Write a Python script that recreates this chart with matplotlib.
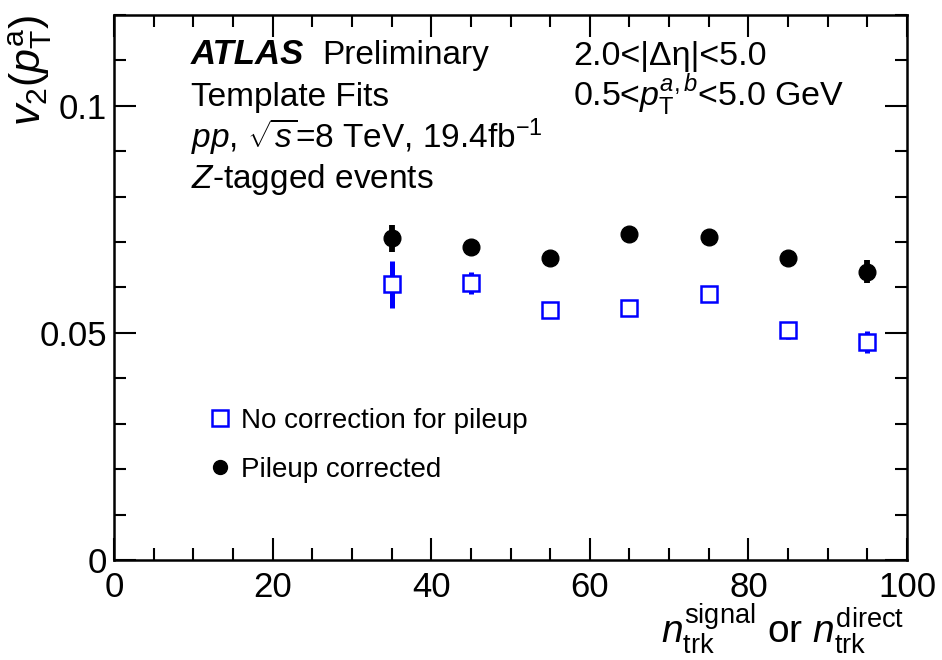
import numpy as np
import matplotlib
matplotlib.use('Agg')
from matplotlib import pyplot as plt
from matplotlib.lines import Line2D
from matplotlib.ticker import MultipleLocator

plt.rcParams['font.family'] = ['Liberation Sans', 'DejaVu Sans']
plt.rcParams['mathtext.fontset'] = 'custom'
plt.rcParams['mathtext.rm'] = 'Liberation Sans'
plt.rcParams['mathtext.it'] = 'Liberation Sans:italic'
plt.rcParams['mathtext.bf'] = 'Liberation Sans:bold'

# multiplicity bins
n_trk = [35, 45, 55, 65, 75, 85, 95]

# v2 without pileup correction (open squares)
v2_raw = [0.0607, 0.0610, 0.0550, 0.0555, 0.0586, 0.0506, 0.0480]
err_raw = [0.0052, 0.0025, 0.0012, 0.0013, 0.0012, 0.0019, 0.0025]

# v2 after pileup correction (filled circles)
v2_corr = [0.0708, 0.0690, 0.0664, 0.0717, 0.0711, 0.0664, 0.0635]
err_corr = [0.0029, 0.0012, 0.0012, 0.0012, 0.0012, 0.0012, 0.0025]

labels = ['No correction for pileup', 'Pileup corrected']

fig = plt.figure(figsize=(9.42, 6.6), dpi=100)
ax = fig.add_axes([114/942, 1 - 560/660, 793/942, 545/660])

ax.errorbar(n_trk, v2_raw, yerr=err_raw, fmt='s', color='#0000ff',
            mfc='white', mec='#0000ff', mew=1.8, ms=12, elinewidth=3.6,
            capsize=0, zorder=3)
ax.errorbar(n_trk, v2_corr, yerr=err_corr, fmt='o', color='black',
            ms=12, elinewidth=4.2, capsize=0, zorder=3)

ax.set_xlim(0, 100)
ax.set_ylim(0, 0.12)
ax.xaxis.set_major_locator(MultipleLocator(20))
ax.xaxis.set_minor_locator(MultipleLocator(5))
ax.yaxis.set_major_locator(MultipleLocator(0.05))
ax.yaxis.set_minor_locator(MultipleLocator(0.01))
ax.set_yticks([0, 0.05, 0.1])
ax.set_yticklabels(['0', '0.05', '0.1'])

ax.tick_params(which='both', direction='in', top=True, right=True,
               width=1.5, labelsize=25)
ax.tick_params(which='major', length=16)
ax.tick_params(which='minor', length=8.5)
ax.tick_params(axis='x', pad=8)
ax.tick_params(axis='y', pad=5)
for s in ax.spines.values():
    s.set_linewidth(1.8)

ax.set_ylabel(r'$v_{2}(p_{\mathrm{T}}^{\mathrm{a}})$', fontsize=31, loc='top')
ax.yaxis.set_label_coords(-0.076, 1.0)
ax.set_xlabel(r'$n_{\mathrm{trk}}^{\mathrm{signal}}$ or $n_{\mathrm{trk}}^{\mathrm{direct}}$',
              fontsize=28, loc='right')
ax.xaxis.set_label_coords(0.997, -0.077)

# ATLAS label block
ax.text(0.097, 0.910, 'ATLAS', transform=ax.transAxes, fontsize=25,
        fontweight='bold', style='italic', va='baseline')
ax.text(0.262, 0.910, 'Preliminary', transform=ax.transAxes, fontsize=24,
        va='baseline')
ax.text(0.097, 0.833, 'Template Fits', transform=ax.transAxes, fontsize=24,
        va='baseline')
ax.text(0.097, 0.756, r'$pp$, $\sqrt{s}$=8 TeV, 19.4fb$^{-1}$',
        transform=ax.transAxes, fontsize=24, va='baseline')
ax.text(0.097, 0.6826, r'$Z$-tagged events', transform=ax.transAxes,
        fontsize=24, va='baseline')

ax.text(0.579, 0.908, '2.0<|Δη|<5.0', transform=ax.transAxes, fontsize=24.5,
        va='baseline')
ax.text(0.579, 0.831, r'0.5<$p_{\mathrm{T}}^{a,b}$<5.0 GeV',
        transform=ax.transAxes, fontsize=24.5, va='baseline')

handles = [
    Line2D([], [], ls='none', marker='s', ms=11, mfc='white',
           mec='#0000ff', mew=1.8),
    Line2D([], [], ls='none', marker='o', ms=10, color='black'),
]
ax.legend(handles, labels, loc='upper left', bbox_to_anchor=(0.12, 0.279),
          frameon=False, fontsize=20, handlelength=0.8, handletextpad=0.34,
          labelspacing=0.83, borderpad=0, borderaxespad=0)

fig.savefig('out.png', dpi=100)
